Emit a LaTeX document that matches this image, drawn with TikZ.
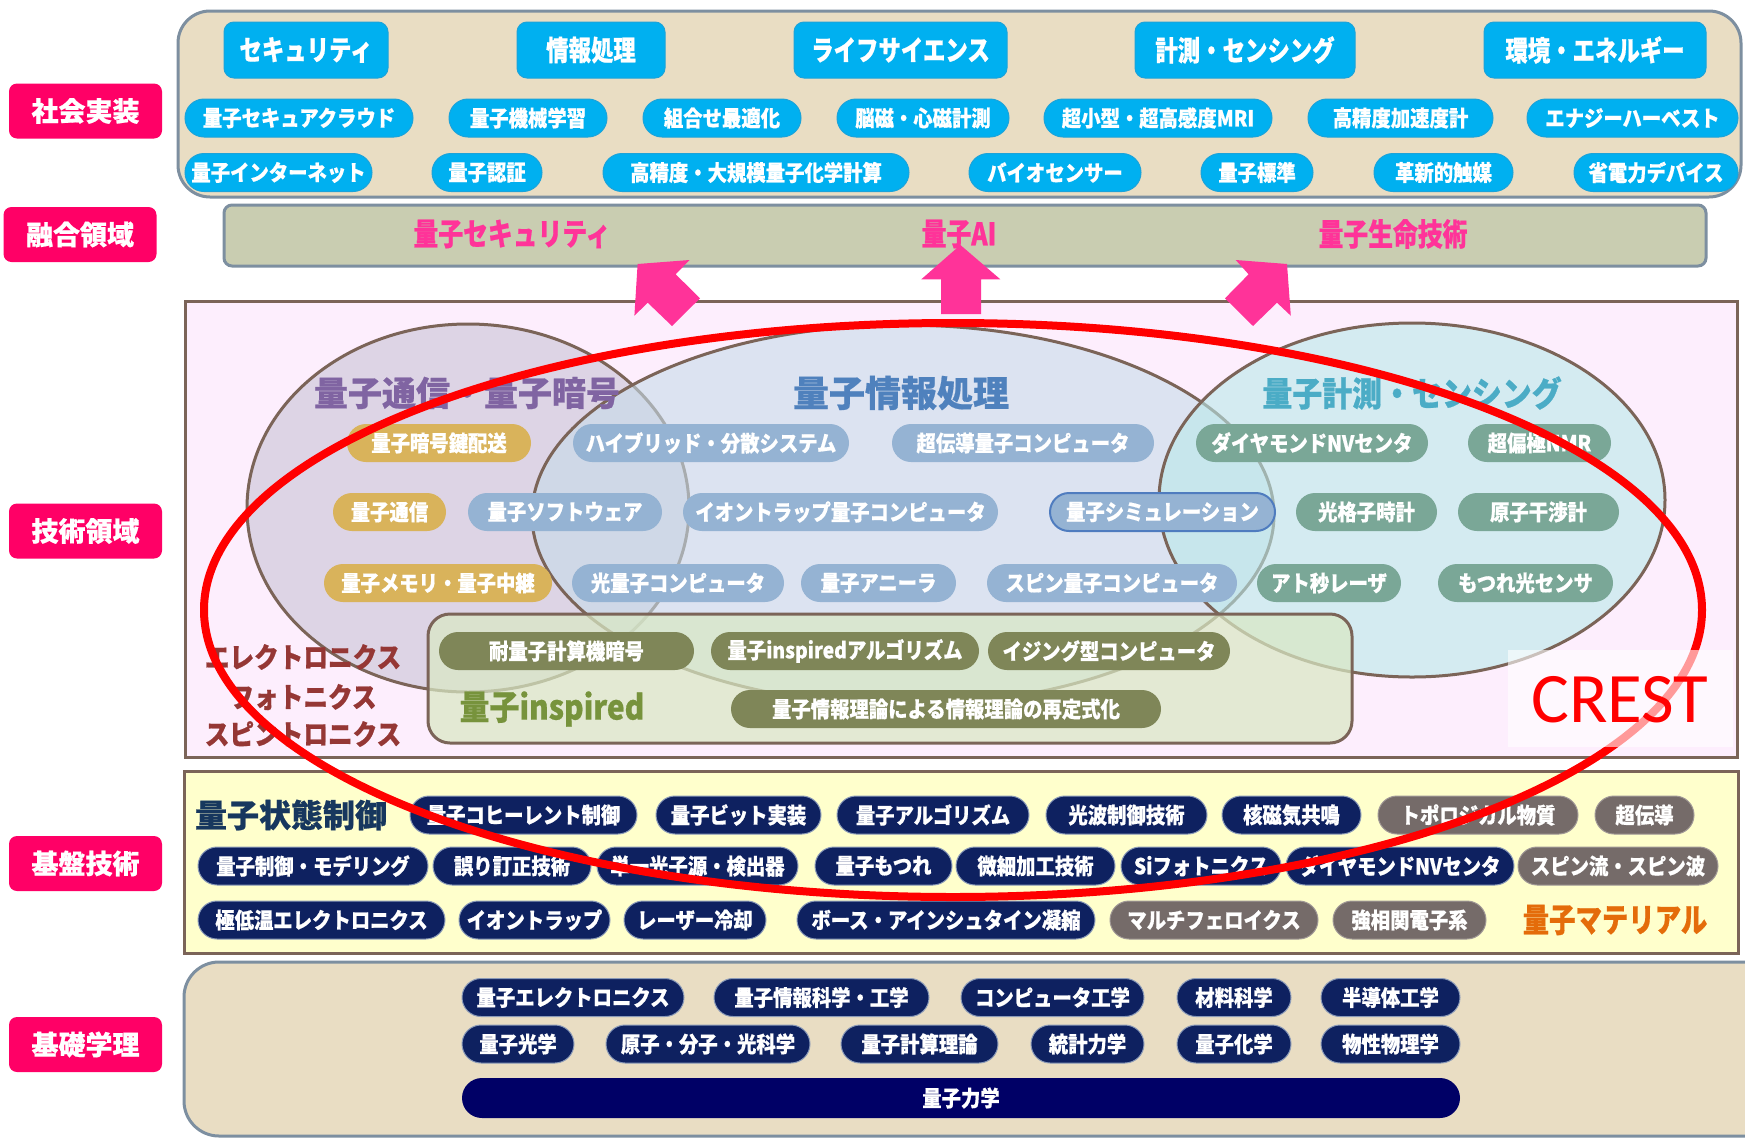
\documentclass[tikz,border=0pt]{standalone}
\usepackage{fontspec}
\newfontfamily\jpN[FakeBold=0.6]{Noto Sans CJK JP}
\newfontfamily\jpB[FakeStretch=0.88,FakeBold=0.6]{Noto Sans CJK JP}
\newfontfamily\jpA[FakeStretch=0.8,FakeBold=0.6]{Noto Sans CJK JP}
\newfontfamily\crestfont{Carlito}
\definecolor{pinkL}{HTML}{FF0066}
\definecolor{beige}{HTML}{E9DDC3}
\definecolor{slate}{HTML}{7D8FA0}
\definecolor{cyanC}{HTML}{00B0F0}
\definecolor{cyanD}{HTML}{1BA3DA}
\definecolor{fusionC}{HTML}{C9CDB1}
\definecolor{pinkT}{HTML}{FF3399}
\definecolor{techbg}{HTML}{FDEEFD}
\definecolor{brownB}{HTML}{7B6458}
\definecolor{ellL}{HTML}{C8C4D5}
\definecolor{ellM}{HTML}{C6DCE9}
\definecolor{ellR}{HTML}{BAE9E9}
\definecolor{goldC}{HTML}{D9B35B}
\definecolor{blueC}{HTML}{95B3D3}
\definecolor{blueE}{HTML}{4F7CBF}
\definecolor{greenC}{HTML}{7AA797}
\definecolor{oliveC}{HTML}{7F8658}
\definecolor{inspC}{HTML}{D9E8C4}
\definecolor{navyC}{HTML}{0E2160}
\definecolor{navyE}{HTML}{8A9AB8}
\definecolor{grayC}{HTML}{756B69}
\definecolor{grayE}{HTML}{A09896}
\definecolor{yel}{HTML}{FFFFCC}
\definecolor{deepC}{HTML}{000066}
\definecolor{purT}{HTML}{8064A2}
\definecolor{bluT}{HTML}{4F81BD}
\definecolor{tealT}{HTML}{4BACC6}
\definecolor{insT}{HTML}{77933C}
\definecolor{redB}{HTML}{953735}
\definecolor{navT}{HTML}{17375E}
\definecolor{oraT}{HTML}{E46C0A}
\tikzset{
 lbl/.style={fill=pinkL, rounded corners=8pt, text=white, font=\jpN\bfseries\fontsize{27}{30}\selectfont, minimum width=153pt, minimum height=55pt, inner sep=0pt},
 cat/.style={fill=cyanC, draw=cyanD, line width=1pt, rounded corners=10pt, text=white, font=\jpA\bfseries\fontsize{28}{30}\selectfont, minimum height=56pt, inner sep=0pt},
 pill/.style={rounded corners=19pt, minimum height=38pt, inner sep=0pt, text=white, font=\jpB\bfseries\fontsize{22}{24}\selectfont},
 cy/.style={pill, fill=cyanC, draw=cyanD, line width=1pt},
 gold/.style={pill, fill=goldC},
 bl/.style={pill, fill=blueC},
 grn/.style={pill, fill=greenC},
 olv/.style={pill, fill=oliveC},
 nv/.style={pill, fill=navyC, draw=navyE, line width=1pt},
 gy/.style={pill, fill=grayC, draw=grayE, line width=1pt},
 ell/.style={draw=brownB, line width=3pt, fill opacity=0.6},
 ttl/.style={font=\jpN\bfseries\fontsize{34}{36}\selectfont, inner sep=0pt},
 pinkarrow/.style={fill=pinkT, draw=none},
}
\begin{document}
\begin{tikzpicture}[x=1pt,y=-1pt]
\useasboundingbox (0,0) rectangle (1745,1138);
\fill[white] (0,0) rectangle (1745,1138);

% left labels
\node[lbl] (L1) at (85.5,111) {社会実装};
\node[lbl] (L2) at (80,234.5) {融合領域};
\node[lbl] (L3) at (85.5,531) {技術領域};
\node[lbl] (L4) at (85.5,863.5) {基盤技術};
\node[lbl] (L5) at (85.5,1044.5) {基礎学理};

% social implementation box
\draw[fill=beige, draw=slate, line width=3pt, rounded corners=32pt] (178,11) rectangle (1741,197);
\node[cat, minimum width=164pt] (c1) at (306,50) {セキュリティ};
\node[cat, minimum width=148pt] (c2) at (591,50) {情報処理};
\node[cat, minimum width=213pt] (c3) at (900.5,50) {ライフサイエンス};
\node[cat, minimum width=220pt] (c4) at (1245,50) {計測・センシング};
\node[cat, minimum width=222pt] (c5) at (1595,50) {環境・エネルギー};

\node[cy, minimum width=228pt] (s1) at (299,118) {量子セキュアクラウド};
\node[cy, minimum width=158pt] (s2) at (528,118) {量子機械学習};
\node[cy, minimum width=158pt] (s3) at (722,118) {組合せ最適化};
\node[cy, minimum width=172pt] (s4) at (923,118) {脳磁・心磁計測};
\node[cy, minimum width=228pt] (s5) at (1158,118) {超小型・超高感度MRI};
\node[cy, minimum width=185pt] (s6) at (1400.5,118) {高精度加速度計};
\node[cy, minimum width=211pt] (s7) at (1632.5,118) {エナジーハーベスト};

\node[cy, minimum width=187pt] (s8) at (278.5,172.5) {量子インターネット};
\node[cy, minimum width=110pt] (s9) at (487,172.5) {量子認証};
\node[cy, minimum width=306pt] (s10) at (756,172.5) {高精度・大規模量子化学計算};
\node[cy, minimum width=172pt] (s11) at (1055,172.5) {バイオセンサー};
\node[cy, minimum width=112pt] (s12) at (1257,172.5) {量子標準};
\node[cy, minimum width=139pt] (s13) at (1443.5,172.5) {革新的触媒};
\node[cy, minimum width=164pt] (s14) at (1656,172.5) {省電力デバイス};

% fusion box
\draw[fill=fusionC, draw=slate, line width=3pt, rounded corners=8pt] (224,205) rectangle (1706,266);
\node[font=\jpA\bfseries\fontsize{31}{33}\selectfont, text=pinkT] (f1) at (512,234) {量子セキュリティ};
\node[font=\jpA\bfseries\fontsize{31}{33}\selectfont, text=pinkT] (f2) at (959,234) {量子AI};
\node[font=\jpA\bfseries\fontsize{31}{33}\selectfont, text=pinkT] (f3) at (1393,234) {量子生命技術};

% technology box
\draw[fill=techbg, draw=brownB, line width=3pt] (185,301) rectangle (1737,757);

% arrows
\fill[pinkarrow] (637.6,264) -- (689.5,260) -- (675.7,274.3) -- (700,298.3) -- (672,326) -- (647.7,302.7) -- (634.4,315.7) -- cycle;
\fill[pinkarrow] (1235.7,260) -- (1287,264) -- (1290.8,315.7) -- (1277,302.7) -- (1253,326) -- (1225,298.3) -- (1248.6,274.3) -- cycle;
\fill[pinkarrow] (960.4,245) -- (1000.3,279.3) -- (981,279.3) -- (981,314) -- (941,314) -- (941,279.3) -- (921.3,279.3) -- cycle;

% ellipses
\draw[ell, fill=ellL] (468,508) ellipse [x radius=221pt, y radius=184pt];
\draw[ell, fill=ellM] (903,515) ellipse [x radius=371pt, y radius=190pt];
\draw[ell, fill=ellR] (1412,500) ellipse [x radius=253pt, y radius=177pt];

\node[ttl, text=purT] (e1) at (467,393) {量子通信・量子暗号};
\node[ttl, text=bluT, font=\jpN\bfseries\fontsize{36}{38}\selectfont] (e2) at (901,393) {量子情報処理};
\node[ttl, text=tealT, font=\jpB\bfseries\fontsize{34}{36}\selectfont] (e3) at (1412,393) {量子計測・センシング};

% technology chips
\node[gold, minimum width=184pt] (t1) at (439,443) {量子暗号鍵配送};
\node[bl, minimum width=276pt] (t2) at (711,443) {ハイブリッド・分散システム};
\node[bl, minimum width=262pt] (t3) at (1023,443) {超伝導量子コンピュータ};
\node[grn, minimum width=232pt] (t4) at (1312,443) {ダイヤモンドNVセンタ};
\node[grn, minimum width=143pt] (t5) at (1539.5,443) {超偏極NMR};

\node[gold, minimum width=113pt] (t6) at (389.5,512) {量子通信};
\node[bl, minimum width=194pt] (t7) at (565,512) {量子ソフトウェア};
\node[bl, minimum width=315pt] (t8) at (840.5,512) {イオントラップ量子コンピュータ};
\node[bl, draw=blueE, line width=2pt, minimum width=225pt] (t9) at (1162.5,512) {量子シミュレーション};
\node[grn, minimum width=141pt] (t10) at (1366.5,512) {光格子時計};
\node[grn, minimum width=161pt] (t11) at (1538.5,512) {原子干渉計};

\node[gold, minimum width=228pt] (t12) at (438,583) {量子メモリ・量子中継};
\node[bl, minimum width=212pt] (t13) at (678,583) {光量子コンピュータ};
\node[bl, minimum width=155pt] (t14) at (878.5,583) {量子アニーラ};
\node[bl, minimum width=250pt] (t15) at (1112,583) {スピン量子コンピュータ};
\node[grn, minimum width=144pt] (t16) at (1329,583) {アト秒レーザ};
\node[grn, minimum width=175pt] (t17) at (1525.5,583) {もつれ光センサ};

% inspired box
\draw[fill=inspC, fill opacity=0.72, draw=brownB, line width=3pt, rounded corners=22pt] (428,614) rectangle (1352,743);
\node[olv, minimum width=255pt] (i1) at (566.5,651) {耐量子計算機暗号};
\node[olv, minimum width=268pt] (i2) at (845,651) {量子inspiredアルゴリズム};
\node[olv, minimum width=242pt] (i3) at (1109,651) {イジング型コンピュータ};
\node[olv, minimum width=430pt] (i4) at (946,709) {量子情報理論による情報理論の再定式化};
\node[font=\jpB\bfseries\fontsize{34}{36}\selectfont, text=insT, inner sep=0pt] (i0) at (552,709) {量子inspired};

\node[font=\jpB\bfseries\fontsize{28}{30}\selectfont, text=redB, inner sep=0pt] (x1) at (303,657) {エレクトロニクス};
\node[font=\jpB\bfseries\fontsize{28}{30}\selectfont, text=redB, inner sep=0pt] (x2) at (303,697) {フォトニクス};
\node[font=\jpB\bfseries\fontsize{28}{30}\selectfont, text=redB, inner sep=0pt] (x3) at (303,734) {スピントロニクス};

% foundation technology box
\draw[fill=yel, draw=brownB, line width=3pt] (184,771) rectangle (1738,953);
\node[font=\jpN\bfseries\fontsize{32}{34}\selectfont, text=navT, inner sep=0pt] (k0) at (291,815) {量子状態制御};
\node[nv, minimum width=227pt] (k1) at (523.5,815) {量子コヒーレント制御};
\node[nv, minimum width=165pt] (k2) at (738.5,815) {量子ビット実装};
\node[nv, minimum width=192pt] (k3) at (933,815) {量子アルゴリズム};
\node[nv, minimum width=161pt] (k4) at (1126.5,815) {光波制御技術};
\node[nv, minimum width=139pt] (k5) at (1291.5,815) {核磁気共鳴};
\node[gy, minimum width=200pt] (k6) at (1478,815) {トポロジカル物質};
\node[gy, minimum width=99pt] (k7) at (1644.5,815) {超伝導};

\node[nv, minimum width=230pt] (k8) at (313,866) {量子制御・モデリング};
\node[nv, minimum width=158pt] (k9) at (512,866) {誤り訂正技術};
\node[nv, minimum width=201pt] (k10) at (697.5,866) {単一光子源・検出器};
\node[nv, minimum width=137pt] (k11) at (883.5,866) {量子もつれ};
\node[nv, minimum width=159pt] (k12) at (1035.5,866) {微細加工技術};
\node[nv, minimum width=160pt] (k13) at (1201,866) {Siフォトニクス};
\node[nv, minimum width=228pt] (k14) at (1400,866) {ダイヤモンドNVセンタ};
\node[gy, minimum width=200pt] (k15) at (1618,866) {スピン流・スピン波};

\node[nv, minimum width=247pt] (k16) at (321.5,920) {極低温エレクトロニクス};
\node[nv, minimum width=151pt] (k17) at (534.5,920) {イオントラップ};
\node[nv, minimum width=142pt] (k18) at (695,920) {レーザー冷却};
\node[nv, minimum width=298pt] (k19) at (946,920) {ボース・アインシュタイン凝縮};
\node[gy, minimum width=208pt] (k20) at (1214,920) {マルチフェロイクス};
\node[gy, minimum width=153pt] (k21) at (1409.5,920) {強相関電子系};
\node[font=\jpA\bfseries\fontsize{33}{35}\selectfont, text=oraT, inner sep=0pt] (k22) at (1615,920) {量子マテリアル};

% basic science box
\begin{scope}
\clip (0,0) rectangle (1745,1138);
\draw[fill=beige, draw=slate, line width=3pt, rounded corners=35pt] (184,962) rectangle (1790,1136);
\end{scope}
\node[nv, minimum width=222pt] (b1) at (573,997.5) {量子エレクトロニクス};
\node[nv, minimum width=215pt] (b2) at (821.5,997.5) {量子情報科学・工学};
\node[nv, minimum width=183pt] (b3) at (1052.5,997.5) {コンピュータ工学};
\node[nv, minimum width=114pt] (b4) at (1234,997.5) {材料科学};
\node[nv, minimum width=139pt] (b5) at (1390.5,997.5) {半導体工学};
\node[nv, minimum width=112pt] (b6) at (518,1044) {量子光学};
\node[nv, minimum width=204pt] (b7) at (708,1044) {原子・分子・光科学};
\node[nv, minimum width=157pt] (b8) at (919.5,1044) {量子計算理論};
\node[nv, minimum width=113pt] (b9) at (1087.5,1044) {統計力学};
\node[nv, minimum width=114pt] (b10) at (1234,1044) {量子化学};
\node[nv, minimum width=139pt] (b11) at (1390.5,1044) {物性物理学};
\node[pill, fill=deepC, minimum width=998pt, minimum height=40pt, rounded corners=20pt] (b12) at (961,1098) {量子力学};

% CREST ellipse
\draw[red, line width=8pt] (953,610) ellipse [x radius=749pt, y radius=287pt];
\fill[white, opacity=0.6] (1508,650) rectangle (1733,747);
\node[font=\crestfont\fontsize{71}{71}\selectfont, text=red, inner sep=0pt] (cr) at (1620,700) {CREST};
\end{tikzpicture}
\end{document}
